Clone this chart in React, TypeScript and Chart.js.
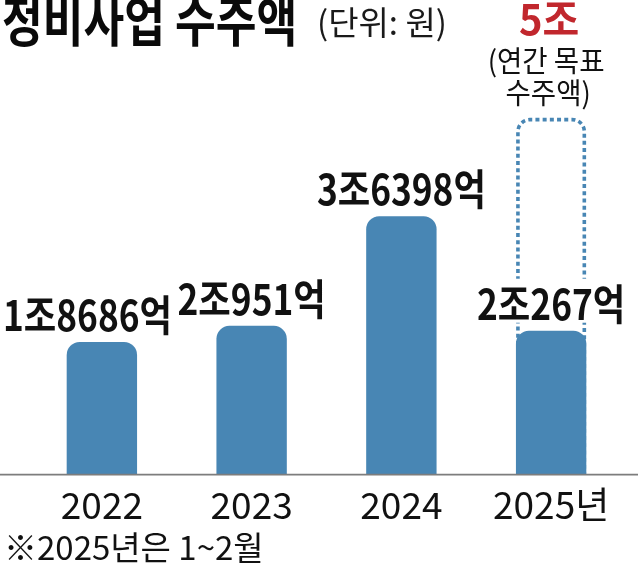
import React, { useEffect, useRef } from 'react';
import { Chart, registerables } from 'chart.js';

Chart.register(...registerables);

// ---- data (단위: 억원) ----
const years = ['2022', '2023', '2024', '2025년'];
const amounts = [18686, 20951, 36398, 20267];
const targetIndex = 3;
const targetAmount = 50000;
const yMax = 58400;

const titleText = '정비사업 수주액';
const unitText = '(단위: 원)';
const targetNote = ['(연간 목표', '수주액)'];
const footnote = '※2025년은 1~2월';

const FONT = "'Noto Sans CJK KR', 'Noto Sans', sans-serif";
const BAR = '#4886b4';
const RED = '#c1272d';

function fmt(v: number): string {
  const jo = Math.floor(v / 10000);
  const eok = v % 10000;
  return eok === 0 ? `${jo}조` : `${jo}조${eok}억`;
}

function measure(ctx: CanvasRenderingContext2D, text: string, font: string, sx: number) {
  ctx.save();
  ctx.font = font;
  const w = ctx.measureText(text).width * sx;
  ctx.restore();
  return w;
}

function drawText(
  ctx: CanvasRenderingContext2D,
  text: string,
  left: number,
  y: number,
  font: string,
  sx: number,
  color: string,
  bg: string | null = null,
) {
  ctx.save();
  ctx.font = font;
  ctx.textAlign = 'left';
  ctx.textBaseline = 'alphabetic';
  if (bg) {
    const w = ctx.measureText(text).width * sx;
    ctx.fillStyle = bg;
    ctx.fillRect(left - 2, y - 41, w + 4, 44);
  }
  ctx.translate(left, y);
  ctx.scale(sx, 1);
  ctx.fillStyle = color;
  ctx.fillText(text, 0, 0);
  ctx.restore();
}

function drawCentered(ctx: CanvasRenderingContext2D, text: string, cx: number, y: number, font: string, sx: number, color: string) {
  const w = measure(ctx, text, font, sx);
  drawText(ctx, text, cx - w / 2, y, font, sx, color);
}

const LABEL_FONT = `600 42px ${FONT}`;
const LABEL_SX = 0.84;

const annotPlugin = {
  id: 'annot',
  beforeDatasetsDraw(chart: any) {
    const ctx = chart.ctx;
    const y = chart.scales.y;
    const meta = chart.getDatasetMeta(0);
    const bar = meta.data[targetIndex].getProps(['x', 'width'], true);
    const base = y.getPixelForValue(0);
    const half = bar.width / 2 - 2;
    const left = bar.x - half;
    const right = bar.x + half;
    const top = y.getPixelForValue(targetAmount);
    const r = 12;
    ctx.save();
    ctx.strokeStyle = BAR;
    ctx.lineWidth = 3.6;
    ctx.setLineDash([4, 3.2]);
    ctx.beginPath();
    ctx.moveTo(left, base);
    ctx.lineTo(left, top + r);
    ctx.arcTo(left, top, left + r, top, r);
    ctx.lineTo(right - r, top);
    ctx.arcTo(right, top, right, top + r, r);
    ctx.lineTo(right, base);
    ctx.stroke();
    ctx.restore();
  },
  afterDatasetsDraw(chart: any) {
    const ctx = chart.ctx;
    const y = chart.scales.y;
    const meta = chart.getDatasetMeta(0);
    const base = y.getPixelForValue(0);
    ctx.save();
    ctx.strokeStyle = '#7d7d7d';
    ctx.lineWidth = 1.6;
    ctx.beginPath();
    ctx.moveTo(0, base);
    ctx.lineTo(chart.width, base);
    ctx.stroke();
    ctx.restore();

    // value labels: centred on bars, pushed apart if they collide
    const items = amounts.map((v, i) => {
      const p = meta.data[i].getProps(['x', 'y'], true);
      const text = fmt(v);
      const w = measure(ctx, text, LABEL_FONT, LABEL_SX);
      return { text, w, left: p.x - w / 2, base: p.y - 11 };
    });
    for (let i = items.length - 1; i > 0; i--) {
      const a = items[i - 1];
      const b = items[i];
      if (Math.abs(a.base - b.base) < 40 && a.left + a.w + 12 > b.left) {
        a.left = b.left - 12 - a.w;
      }
    }
    items.forEach((it) => {
      drawText(ctx, it.text, Math.max(3, it.left), it.base, LABEL_FONT, LABEL_SX, '#111111', '#ffffff');
    });
  },
  afterDraw(chart: any) {
    const ctx = chart.ctx;
    const meta = chart.getDatasetMeta(0);
    const tx = meta.data[targetIndex].getProps(['x'], true).x;
    drawText(ctx, titleText, 2, 42, `700 54px ${FONT}`, 0.82, '#0a0a0a');
    drawText(ctx, unitText, 317, 35, `400 33px ${FONT}`, 1.0, '#1a1a1a');
    drawCentered(ctx, fmt(targetAmount), tx - 2, 35, `700 42px ${FONT}`, 0.95, RED);
    drawCentered(ctx, targetNote[0], tx - 5, 72, `400 29px ${FONT}`, 0.95, '#111111');
    drawCentered(ctx, targetNote[1], tx - 3, 104, `400 29px ${FONT}`, 0.95, '#111111');
    drawText(ctx, footnote, 4, 560, `400 33px ${FONT}`, 1.0, '#111111');
  },
};

export default function App() {
  const ref = useRef<HTMLCanvasElement | null>(null);
  useEffect(() => {
    if (!ref.current) return;
    const chart = new Chart(ref.current, {
      type: 'bar',
      data: {
        labels: years,
        datasets: [
          {
            data: amounts,
            backgroundColor: BAR,
            borderWidth: 0,
            borderRadius: { topLeft: 13, topRight: 13, bottomLeft: 0, bottomRight: 0 },
            borderSkipped: false,
            barPercentage: 0.94,
            categoryPercentage: 0.5,
          },
        ],
      },
      options: {
        responsive: false,
        animation: false,
        devicePixelRatio: 1,
        layout: { padding: { left: 27, right: 12, top: 60, bottom: 32 } },
        plugins: {
          legend: { display: false },
          tooltip: { enabled: false },
          title: { display: false },
        },
        scales: {
          x: {
            grid: { display: false, drawTicks: false },
            border: { display: false },
            ticks: {
              color: '#111111',
              padding: 8,
              font: { family: FONT, size: 37, weight: 400 as any },
              maxRotation: 0,
              autoSkip: false,
            },
          },
          y: {
            display: false,
            min: 0,
            max: yMax,
          },
        },
      },
      plugins: [annotPlugin],
    });
    return () => chart.destroy();
  }, []);
  return (
    <div style={{ position: 'absolute', left: 0, top: 0, width: 638, height: 567, background: '#fff' }}>
      <canvas ref={ref} width={638} height={567} />
    </div>
  );
}
